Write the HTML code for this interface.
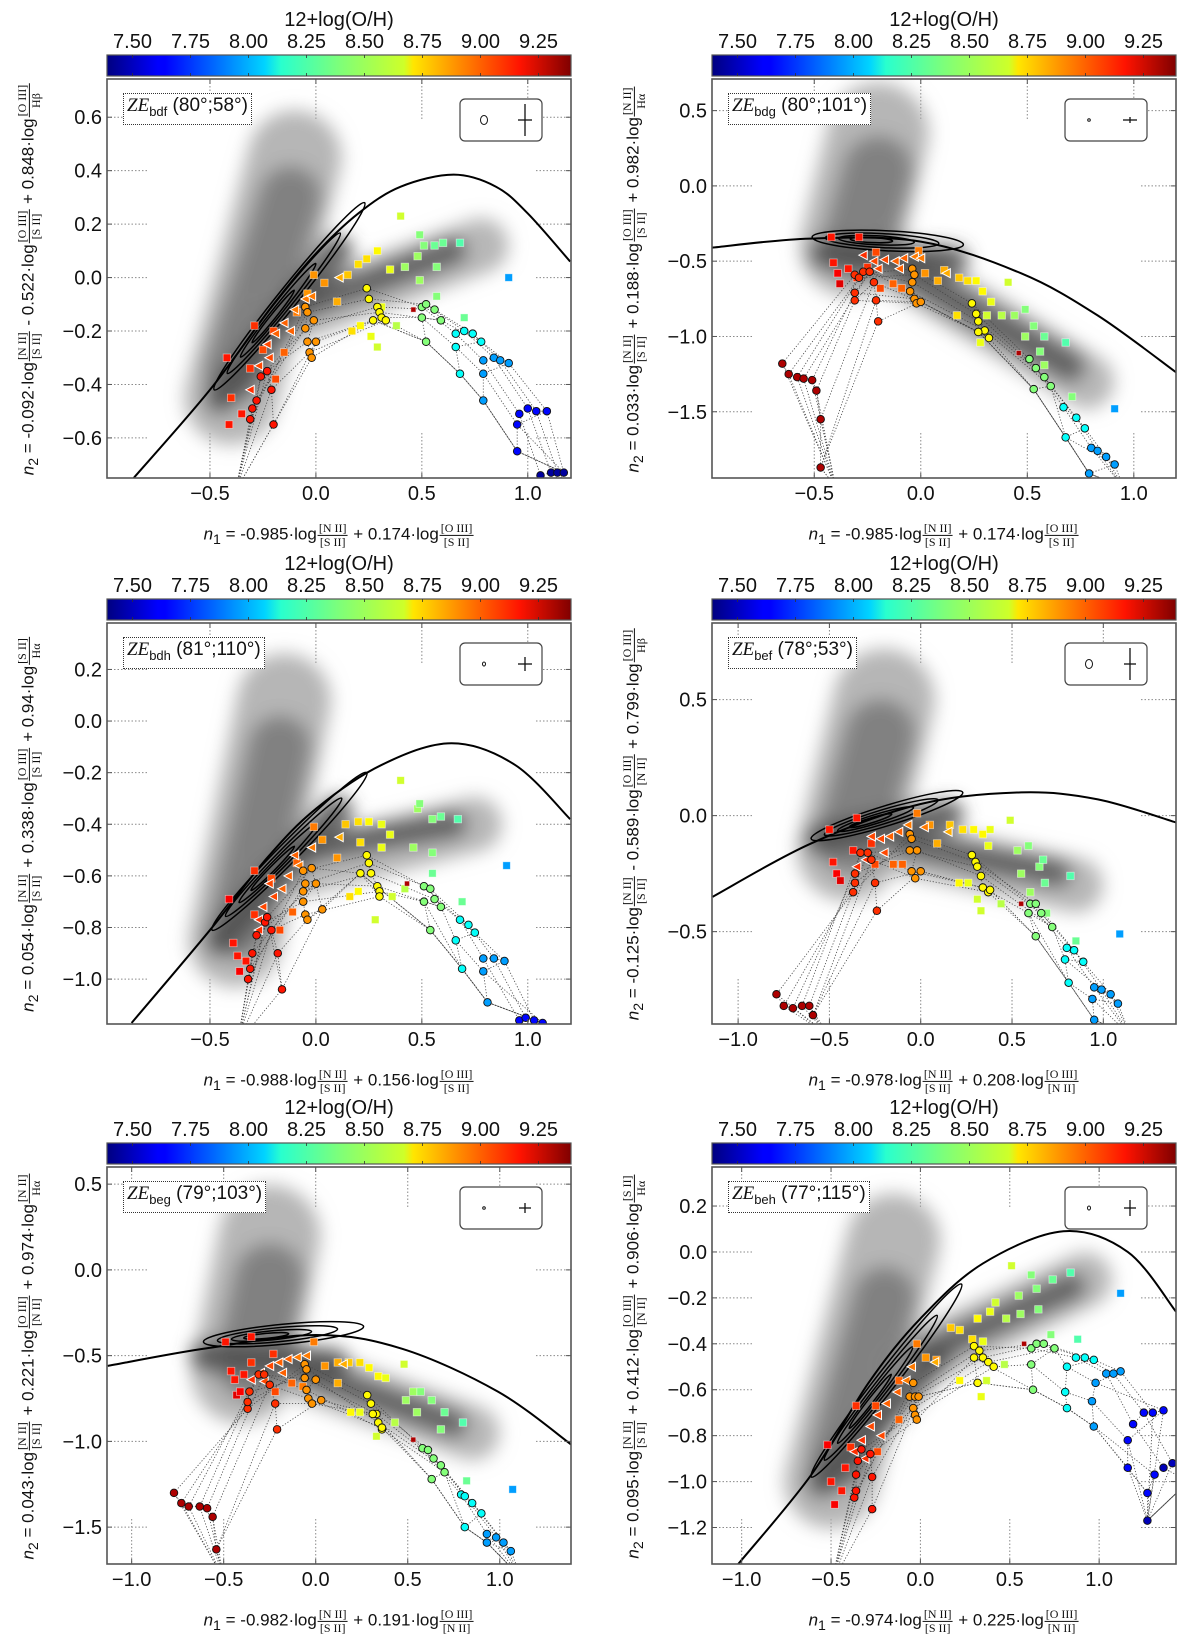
<!DOCTYPE html>
<html><head><meta charset="utf-8">
<style>
html,body{margin:0;padding:0;background:#fff;}
#wrap{position:relative;width:1200px;height:1636px;overflow:hidden;font-family:"Liberation Sans","DejaVu Sans",sans-serif;color:#111;}
svg{position:absolute;left:0;top:0;}
.lbl{position:absolute;white-space:nowrap;font-size:17px;line-height:1;}
.ylab{transform:translate(-50%,-50%) rotate(-90deg);}
.xlab{transform:translate(-50%,-50%);}
.fr{display:inline-flex;flex-direction:column;vertical-align:middle;font-family:"Liberation Serif",serif;font-size:12px;line-height:1.05;text-align:center;margin:0 1px;}
.fr .nu{border-bottom:1px solid #111;padding:0 1px;}
.fr .de{padding:0 1px;}
.ann{position:absolute;border:1px dotted #333;font-size:19px;line-height:24px;padding:0 3px;white-space:nowrap;background:#fff;}
.ann i{font-family:"Liberation Serif",serif;}
.ann sub{font-size:13px;}
</style></head>
<body>
<div id="wrap">
<svg id="svg" width="1200" height="1636" viewBox="0 0 1200 1636">
<defs>
<filter id="blur" x="-50%" y="-50%" width="200%" height="200%"><feGaussianBlur stdDeviation="9"/></filter>
<linearGradient id="jet" x1="0" x2="1" y1="0" y2="0">
<stop offset="0" stop-color="#000080"/><stop offset="0.11" stop-color="#0000ff"/><stop offset="0.125" stop-color="#0000ff"/>
<stop offset="0.34" stop-color="#00d4ff"/><stop offset="0.375" stop-color="#29ffce"/><stop offset="0.5" stop-color="#7dff7a"/>
<stop offset="0.64" stop-color="#ceff29"/><stop offset="0.66" stop-color="#ffe600"/><stop offset="0.89" stop-color="#ff1300"/><stop offset="1" stop-color="#800000"/>
</linearGradient>
</defs>
</svg>
</div>
<script>
// ---------- shared colorbar data ----------
const cbTicks = [7.50, 7.75, 8.00, 8.25, 8.50, 8.75, 9.00, 9.25];
const cbRange = [7.39, 9.39];

// ---------- panel 1 (bdf) ----------
const p1Curve = [[-0.86,-0.75],[-0.5,-0.42],[-0.2,-0.1],[0.0,0.09],[0.2,0.24],[0.4,0.34],[0.65,0.385],[0.85,0.34],[1.0,0.24],[1.2,0.06]];
const p1Contour = [-0.48,-0.42,0.23,0.28];
const p1Cloud = [[-0.4,-0.45,-0.1,0.45,120,'#a9a9a9'],[-0.3,-0.2,0.78,0.12,70,'#aaaaaa'],[-0.38,-0.35,-0.12,0.3,80,'#7a7a7a'],[-0.45,-0.45,0.1,0.1,40,'#4e4e4e'],[-0.1,-0.12,0.65,0.1,35,'#555555']];
const p1Squares = [[-0.41,-0.55,9.1],[-0.35,-0.51,9.1],[-0.40,-0.45,9.05],[-0.31,-0.34,9.05],[-0.29,-0.18,9.05],[-0.42,-0.30,9.1],[-0.25,-0.27,9.0],[-0.2,-0.2,9.0],[-0.19,-0.38,9.0],[-0.15,-0.28,8.95],[-0.09,-0.13,8.9],[-0.04,-0.06,8.85],[-0.01,0.01,8.85],[0.04,-0.02,8.85],[0.10,-0.09,8.8],[0.15,0.01,8.75],[0.20,0.05,8.7],[0.24,0.07,8.7],[0.29,0.10,8.65],[0.40,0.23,8.55],[0.35,0.03,8.6],[0.31,-0.11,8.6],[0.21,-0.18,8.65],[0.17,-0.20,8.7],[0.26,-0.22,8.6],[0.29,-0.26,8.55],[0.38,-0.18,8.5],[0.42,0.04,8.45],[0.48,0.08,8.45],[0.49,0.16,8.4],[0.51,0.12,8.4],[0.56,0.12,8.35],[0.60,0.13,8.35],[0.68,0.13,8.3],[0.57,0.04,8.4],[0.49,-0.01,8.45],[0.57,-0.07,8.4],[0.70,-0.15,8.35],[0.91,0.0,7.95],[0.46,-0.12,9.3]];
const p1Triangles = [[-0.31,-0.42,9.05],[-0.27,-0.33,9.0],[-0.23,-0.25,9.0],[-0.19,-0.21,8.95],[-0.15,-0.17,8.95],[-0.1,-0.12,8.9],[-0.05,-0.08,8.9],[-0.02,-0.07,8.9],[0.11,0.0,8.8],[-0.22,-0.3,9.0],[-0.12,-0.2,8.95]];
const p1Circles = [
 [9.1,[[-0.31,-0.53],[-0.30,-0.49],[-0.28,-0.46],[-0.26,-0.37],[-0.23,-0.35],[-0.21,-0.42],[-0.2,-0.55]]],
 [8.85,[[-0.05,-0.11],[-0.04,-0.13],[-0.05,-0.19],[-0.01,-0.16],[-0.04,-0.24],[-0.03,-0.28],[-0.02,-0.30],[0.0,-0.24]]],
 [8.65,[[0.24,-0.04],[0.25,-0.08],[0.29,-0.11],[0.30,-0.13],[0.31,-0.15],[0.33,-0.16],[0.27,-0.16]]],
 [8.4,[[0.50,-0.11],[0.52,-0.10],[0.56,-0.12],[0.59,-0.16],[0.50,-0.15],[0.52,-0.24]]],
 [8.15,[[0.66,-0.21],[0.70,-0.20],[0.74,-0.21],[0.78,-0.24],[0.66,-0.26],[0.68,-0.36]]],
 [7.95,[[0.79,-0.31],[0.84,-0.30],[0.87,-0.31],[0.91,-0.32],[0.79,-0.36],[0.79,-0.46]]],
 [7.65,[[0.96,-0.51],[1.0,-0.49],[1.04,-0.50],[1.09,-0.50],[0.95,-0.55],[0.95,-0.65]]],
 [7.45,[[1.06,-0.74],[1.11,-0.73],[1.14,-0.73],[1.17,-0.73]]]];
const p1Anchors = [[-0.38,-0.8],[1.12,-0.8]];
const p1XTicks = [-0.5,0.0,0.5,1.0];
const p1YTicks = [-0.6,-0.4,-0.2,0.0,0.2,0.4,0.6];

// ---------- panel 2 (bdg) ----------
const p2Curve = [[-0.98,-0.41],[-0.52,-0.35],[0.0,-0.37],[0.47,-0.58],[0.83,-0.86],[1.2,-1.24]];
const p2Contour = [-0.51,-0.34,0.2,-0.39];
const p2Cloud = [[-0.33,-0.4,-0.2,0.35,130,'#a9a9a9'],[-0.2,-0.45,0.78,-1.3,70,'#aaaaaa'],[-0.3,-0.4,-0.2,0.1,90,'#7a7a7a'],[-0.45,-0.45,0.15,-0.5,40,'#4e4e4e'],[-0.1,-0.55,0.7,-1.2,40,'#555555']];
const p2Squares = [[-0.42,-0.34,9.1],[-0.29,-0.34,9.1],[-0.41,-0.51,9.1],[-0.39,-0.58,9.15],[-0.38,-0.65,9.2],[-0.34,-0.55,9.1],[-0.30,-0.61,9.05],[-0.25,-0.54,9.05],[-0.21,-0.44,9.0],[-0.19,-0.68,9.0],[-0.13,-0.65,8.95],[-0.09,-0.68,8.95],[-0.01,-0.43,8.9],[0.02,-0.58,8.85],[0.08,-0.63,8.8],[0.11,-0.56,8.8],[0.18,-0.61,8.75],[0.22,-0.63,8.7],[0.26,-0.63,8.65],[0.29,-0.70,8.65],[0.33,-0.77,8.6],[0.41,-0.64,8.55],[0.31,-0.86,8.55],[0.38,-0.86,8.5],[0.44,-0.86,8.45],[0.49,-0.82,8.4],[0.53,-0.93,8.4],[0.58,-1.0,8.35],[0.49,-1.0,8.45],[0.56,-1.1,8.4],[0.68,-1.04,8.3],[0.28,-1.04,8.6],[0.58,-1.19,8.45],[0.71,-1.40,8.4],[0.91,-1.48,7.95],[0.17,-0.86,8.7],[0.46,-1.11,9.3]];
const p2Triangles = [[-0.27,-0.46,9.05],[-0.22,-0.5,9.0],[-0.17,-0.49,9.0],[-0.12,-0.5,8.95],[-0.08,-0.48,8.95],[-0.03,-0.47,8.9],[0.0,-0.48,8.9],[0.12,-0.58,8.8],[-0.2,-0.55,9.0],[-0.1,-0.55,8.95]];
const p2Circles = [
 [9.3,[[-0.65,-1.18],[-0.62,-1.25],[-0.58,-1.27],[-0.55,-1.28],[-0.51,-1.29],[-0.49,-1.36],[-0.47,-1.55],[-0.47,-1.87]]],
 [9.05,[[-0.31,-0.59],[-0.29,-0.61],[-0.27,-0.57],[-0.24,-0.57],[-0.31,-0.71],[-0.31,-0.76],[-0.22,-0.64],[-0.21,-0.76],[-0.2,-0.90]]],
 [8.85,[[-0.04,-0.55],[-0.03,-0.59],[-0.04,-0.64],[-0.05,-0.70],[-0.03,-0.75],[-0.02,-0.78],[0.0,-0.77]]],
 [8.65,[[0.24,-0.78],[0.26,-0.85],[0.27,-0.90],[0.30,-0.96],[0.32,-1.01],[0.27,-0.97]]],
 [8.4,[[0.51,-1.15],[0.54,-1.21],[0.58,-1.27],[0.61,-1.33],[0.53,-1.35]]],
 [8.15,[[0.67,-1.47],[0.73,-1.54],[0.77,-1.61],[0.68,-1.67]]],
 [7.95,[[0.8,-1.74],[0.83,-1.76],[0.87,-1.80],[0.91,-1.85],[0.79,-1.91]]]];
const p2Anchors = [[-0.4,-2.0],[0.95,-2.0]];
const p2XTicks = [-0.5,0.0,0.5,1.0];
const p2YTicks = [-1.5,-1.0,-0.5,0.0,0.5];

// ---------- panel 3 (bdh) ----------
const p3Curve = [[-0.87,-1.17],[-0.5,-0.81],[-0.23,-0.53],[0.0,-0.34],[0.31,-0.17],[0.64,-0.086],[0.94,-0.17],[1.2,-0.38]];
const p3Contour = [-0.49,-0.81,0.24,-0.2];
const p3Cloud = [[-0.38,-0.85,-0.15,0.08,120,'#a9a9a9'],[-0.2,-0.6,0.75,-0.4,70,'#aaaaaa'],[-0.36,-0.8,-0.17,-0.1,80,'#7a7a7a'],[-0.45,-0.85,0.1,-0.35,40,'#4e4e4e'],[-0.05,-0.5,0.65,-0.4,35,'#555555']];
const p3Squares = [[-0.39,-0.86,9.1],[-0.37,-0.91,9.1],[-0.36,-0.97,9.15],[-0.33,-0.93,9.1],[-0.41,-0.69,9.15],[-0.29,-0.58,9.05],[-0.29,-0.75,9.05],[-0.21,-0.61,9.0],[-0.17,-0.81,9.0],[-0.11,-0.74,8.95],[-0.09,-0.55,8.95],[-0.01,-0.41,8.9],[0.03,-0.46,8.85],[0.1,-0.53,8.85],[0.14,-0.40,8.75],[0.2,-0.39,8.7],[0.21,-0.47,8.7],[0.25,-0.39,8.65],[0.31,-0.40,8.6],[0.4,-0.23,8.55],[0.35,-0.44,8.6],[0.31,-0.49,8.6],[0.2,-0.66,8.65],[0.16,-0.68,8.7],[0.28,-0.77,8.55],[0.36,-0.68,8.55],[0.42,-0.65,8.5],[0.48,-0.34,8.45],[0.49,-0.32,8.4],[0.55,-0.38,8.4],[0.59,-0.37,8.35],[0.67,-0.38,8.3],[0.46,-0.49,8.45],[0.55,-0.51,8.4],[0.55,-0.59,8.35],[0.69,-0.70,8.35],[0.9,-0.56,7.95],[0.43,-0.63,9.3]];
const p3Triangles = [[-0.27,-0.77,9.05],[-0.25,-0.72,9.0],[-0.2,-0.68,9.0],[-0.16,-0.65,8.95],[-0.13,-0.6,8.95],[-0.08,-0.56,8.9],[-0.02,-0.49,8.9],[0.11,-0.45,8.8],[-0.22,-0.63,9.0],[-0.1,-0.52,8.95],[-0.27,-0.81,9.05]];
const p3Circles = [
 [9.1,[[-0.32,-1.0],[-0.31,-0.96],[-0.30,-0.9],[-0.28,-0.83],[-0.24,-0.78],[-0.21,-0.81],[-0.18,-0.9],[-0.16,-1.04],[-0.23,-0.76]]],
 [8.85,[[-0.06,-0.58],[-0.05,-0.63],[-0.06,-0.66],[0.0,-0.63],[-0.06,-0.70],[-0.05,-0.75],[-0.04,-0.77],[0.03,-0.73],[-0.02,-0.57]]],
 [8.65,[[0.24,-0.52],[0.25,-0.55],[0.26,-0.59],[0.29,-0.64],[0.3,-0.66],[0.3,-0.68],[0.21,-0.59]]],
 [8.4,[[0.51,-0.64],[0.54,-0.65],[0.56,-0.69],[0.59,-0.72],[0.51,-0.70],[0.54,-0.81]]],
 [8.15,[[0.68,-0.77],[0.72,-0.79],[0.75,-0.82],[0.66,-0.85],[0.69,-0.96]]],
 [7.95,[[0.79,-0.92],[0.84,-0.92],[0.89,-0.93],[0.79,-0.97],[0.81,-1.09]]],
 [7.65,[[0.96,-1.16],[0.99,-1.15],[1.03,-1.16],[1.07,-1.17]]]];
const p3Anchors = [[-0.37,-1.25],[1.08,-1.25]];
const p3XTicks = [-0.5,0.0,0.5,1.0];
const p3YTicks = [-1.0,-0.8,-0.6,-0.4,-0.2,0.0,0.2];

// ---------- panel 4 (bef) ----------
const p4Curve = [[-1.14,-0.35],[-0.6,-0.12],[0.0,0.05],[0.55,0.10],[0.97,0.07],[1.4,-0.03]];
const p4Contour = [-0.6,-0.1,0.23,0.1];
const p4Cloud = [[-0.4,-0.15,-0.2,0.5,130,'#a9a9a9'],[-0.2,-0.12,0.85,-0.3,70,'#aaaaaa'],[-0.38,-0.1,-0.22,0.35,90,'#7a7a7a'],[-0.55,-0.1,0.15,0.0,40,'#4e4e4e'],[-0.1,-0.12,0.75,-0.25,35,'#555555']];
const p4Squares = [[-0.5,-0.06,9.1],[-0.35,-0.01,9.1],[-0.48,-0.2,9.1],[-0.46,-0.25,9.15],[-0.44,-0.28,9.2],[-0.37,-0.15,9.1],[-0.27,-0.12,9.05],[-0.25,-0.21,9.0],[-0.15,-0.21,8.95],[-0.1,-0.21,8.95],[-0.02,0.01,8.9],[0.05,-0.04,8.85],[0.09,-0.12,8.8],[0.16,-0.04,8.75],[0.23,-0.06,8.7],[0.29,-0.06,8.65],[0.34,-0.08,8.65],[0.37,-0.13,8.6],[0.49,-0.02,8.55],[0.38,-0.06,8.6],[0.21,-0.29,8.65],[0.26,-0.29,8.6],[0.31,-0.36,8.55],[0.33,-0.41,8.55],[0.44,-0.38,8.5],[0.53,-0.15,8.45],[0.59,-0.13,8.4],[0.55,-0.25,8.45],[0.65,-0.22,8.4],[0.68,-0.29,8.35],[0.67,-0.19,8.35],[0.6,-0.33,8.45],[0.69,-0.42,8.4],[0.82,-0.26,8.3],[0.85,-0.54,8.35],[1.09,-0.51,7.95],[0.55,-0.38,9.3]];
const p4Triangles = [[-0.27,-0.09,9.0],[-0.22,-0.1,9.0],[-0.17,-0.09,8.95],[-0.12,-0.07,8.95],[-0.07,-0.04,8.9],[0.02,-0.05,8.9],[0.15,-0.07,8.8],[-0.3,-0.19,9.05],[-0.2,-0.16,9.0],[-0.35,-0.22,9.05]];
const p4Circles = [
 [9.3,[[-0.79,-0.77],[-0.75,-0.82],[-0.7,-0.83],[-0.65,-0.82],[-0.61,-0.82],[-0.59,-0.86]]],
 [9.05,[[-0.37,-0.33],[-0.36,-0.29],[-0.36,-0.25],[-0.33,-0.16],[-0.29,-0.16],[-0.27,-0.19],[-0.25,-0.29],[-0.24,-0.41]]],
 [8.85,[[-0.06,-0.08],[-0.05,-0.10],[-0.06,-0.15],[-0.02,-0.15],[-0.05,-0.24],[-0.03,-0.27],[0.0,-0.24]]],
 [8.65,[[0.28,-0.17],[0.30,-0.2],[0.31,-0.22],[0.33,-0.26],[0.34,-0.31],[0.37,-0.33],[0.38,-0.32]]],
 [8.4,[[0.6,-0.38],[0.63,-0.38],[0.66,-0.42],[0.72,-0.48],[0.59,-0.42],[0.63,-0.52]]],
 [8.15,[[0.8,-0.57],[0.84,-0.58],[0.89,-0.63],[0.79,-0.62],[0.81,-0.72]]],
 [7.95,[[0.95,-0.74],[0.99,-0.75],[1.04,-0.77],[1.08,-0.81],[0.94,-0.79],[0.95,-0.88]]]];
const p4Anchors = [[-0.5,-0.95],[1.15,-0.95]];
const p4XTicks = [-1.0,-0.5,0.0,0.5,1.0];
const p4YTicks = [-0.5,0.0,0.5];

// ---------- panel 5 (beg) ----------
const p5Curve = [[-1.13,-0.56],[-0.61,-0.46],[0.0,-0.38],[0.47,-0.46],[0.99,-0.71],[1.39,-1.02]];
const p5Contour = [-0.61,-0.42,0.26,-0.33];
const p5Cloud = [[-0.4,-0.6,-0.25,0.2,130,'#a9a9a9'],[-0.2,-0.55,0.85,-0.95,70,'#aaaaaa'],[-0.35,-0.55,-0.25,-0.05,90,'#7a7a7a'],[-0.6,-0.5,0.1,-0.55,40,'#4e4e4e'],[-0.05,-0.6,0.75,-0.9,35,'#555555']];
const p5Squares = [[-0.49,-0.42,9.1],[-0.35,-0.39,9.1],[-0.46,-0.59,9.1],[-0.44,-0.64,9.1],[-0.43,-0.73,9.2],[-0.41,-0.71,9.15],[-0.39,-0.61,9.1],[-0.35,-0.54,9.05],[-0.23,-0.49,9.05],[-0.22,-0.71,9.0],[-0.13,-0.66,8.95],[-0.07,-0.68,8.9],[-0.01,-0.42,8.9],[0.05,-0.56,8.85],[0.12,-0.54,8.8],[0.12,-0.66,8.8],[0.18,-0.54,8.75],[0.24,-0.54,8.7],[0.29,-0.57,8.65],[0.34,-0.62,8.65],[0.38,-0.63,8.6],[0.48,-0.55,8.55],[0.19,-0.83,8.65],[0.24,-0.83,8.6],[0.33,-0.97,8.55],[0.43,-0.89,8.5],[0.49,-0.76,8.45],[0.53,-0.71,8.45],[0.57,-0.71,8.4],[0.63,-0.76,8.4],[0.7,-0.83,8.35],[0.55,-0.83,8.45],[0.68,-0.93,8.4],[0.8,-0.89,8.3],[0.82,-1.23,8.35],[1.07,-1.28,7.95],[0.53,-0.99,9.3]];
const p5Triangles = [[-0.35,-0.64,9.05],[-0.3,-0.6,9.0],[-0.25,-0.56,9.0],[-0.2,-0.54,8.95],[-0.15,-0.52,8.95],[-0.1,-0.51,8.9],[-0.05,-0.5,8.9],[0.15,-0.55,8.8],[-0.28,-0.65,9.0],[-0.18,-0.6,8.95]];
const p5Circles = [
 [9.3,[[-0.77,-1.3],[-0.73,-1.36],[-0.69,-1.38],[-0.63,-1.38],[-0.59,-1.39],[-0.56,-1.44],[-0.54,-1.63]]],
 [9.05,[[-0.37,-0.81],[-0.37,-0.77],[-0.36,-0.71],[-0.31,-0.61],[-0.28,-0.61],[-0.25,-0.67],[-0.22,-0.78],[-0.21,-0.93]]],
 [8.85,[[-0.06,-0.55],[-0.05,-0.58],[-0.06,-0.63],[0.0,-0.64],[-0.05,-0.70],[-0.04,-0.75],[-0.02,-0.78],[0.03,-0.76]]],
 [8.65,[[0.28,-0.73],[0.30,-0.78],[0.33,-0.84],[0.34,-0.89],[0.36,-0.93],[0.36,-0.92],[0.31,-0.84]]],
 [8.4,[[0.58,-1.04],[0.61,-1.05],[0.64,-1.10],[0.68,-1.14],[0.7,-1.18],[0.63,-1.22]]],
 [8.15,[[0.79,-1.31],[0.81,-1.32],[0.85,-1.36],[0.9,-1.42],[0.81,-1.5]]],
 [7.95,[[0.93,-1.54],[0.98,-1.56],[1.02,-1.59],[1.06,-1.64],[0.93,-1.59]]]];
const p5Anchors = [[-0.5,-1.8],[1.12,-1.8]];
const p5XTicks = [-1.0,-0.5,0.0,0.5,1.0];
const p5YTicks = [-1.5,-1.0,-0.5,0.0,0.5];

// ---------- panel 6 (beh) ----------
const p6Curve = [[-1.02,-1.36],[-0.61,-0.97],[-0.29,-0.57],[0.0,-0.29],[0.35,-0.05],[0.8,0.09],[1.16,0.0],[1.43,-0.26]];
const p6Contour = [-0.61,-0.98,0.23,-0.14];
const p6Cloud = [[-0.5,-1.0,-0.15,0.05,120,'#a9a9a9'],[-0.1,-0.5,0.92,-0.12,70,'#aaaaaa'],[-0.45,-0.9,-0.2,-0.2,80,'#7a7a7a'],[-0.55,-1.0,0.1,-0.45,40,'#4e4e4e'],[0.0,-0.45,0.85,-0.15,35,'#555555']];
const p6Squares = [[-0.48,-1.1,9.15],[-0.44,-1.04,9.1],[-0.5,-1.0,9.1],[-0.42,-0.94,9.1],[-0.52,-0.84,9.15],[-0.36,-0.67,9.05],[-0.39,-0.85,9.05],[-0.25,-0.67,9.0],[-0.24,-0.87,9.0],[-0.12,-0.73,8.95],[-0.12,-0.56,8.95],[-0.02,-0.40,8.9],[0.03,-0.46,8.85],[0.09,-0.47,8.85],[0.17,-0.33,8.75],[0.22,-0.34,8.7],[0.29,-0.38,8.7],[0.32,-0.29,8.65],[0.39,-0.26,8.6],[0.42,-0.22,8.55],[0.51,-0.06,8.55],[0.48,-0.29,8.5],[0.35,-0.39,8.6],[0.22,-0.56,8.65],[0.37,-0.56,8.55],[0.34,-0.63,8.6],[0.47,-0.49,8.5],[0.55,-0.19,8.45],[0.62,-0.1,8.4],[0.65,-0.16,8.4],[0.74,-0.12,8.35],[0.84,-0.09,8.3],[0.56,-0.27,8.45],[0.66,-0.25,8.4],[0.73,-0.36,8.4],[0.88,-0.38,8.3],[1.12,-0.18,7.95],[0.58,-0.40,9.3]];
const p6Triangles = [[-0.37,-0.87,9.05],[-0.33,-0.82,9.05],[-0.28,-0.76,9.0],[-0.24,-0.71,9.0],[-0.19,-0.66,8.95],[-0.13,-0.61,8.95],[-0.08,-0.56,8.9],[0.08,-0.48,8.8],[-0.31,-0.9,9.05],[-0.22,-0.8,9.0],[-0.05,-0.5,8.9]];
const p6Circles = [
 [9.1,[[-0.37,-1.07],[-0.36,-1.04],[-0.36,-0.97],[-0.35,-0.91],[-0.33,-0.86],[-0.28,-0.88],[-0.27,-0.98],[-0.27,-1.12]]],
 [8.85,[[-0.04,-0.57],[-0.06,-0.63],[-0.03,-0.63],[-0.04,-0.68],[-0.03,-0.71],[-0.02,-0.73],[-0.01,-0.63]]],
 [8.65,[[0.3,-0.41],[0.33,-0.43],[0.35,-0.46],[0.38,-0.48],[0.41,-0.50],[0.3,-0.46],[0.32,-0.57]]],
 [8.4,[[0.62,-0.42],[0.65,-0.4],[0.69,-0.4],[0.75,-0.42],[0.62,-0.49],[0.63,-0.6]]],
 [8.15,[[0.87,-0.46],[0.92,-0.46],[0.97,-0.47],[0.82,-0.5],[0.81,-0.61],[0.82,-0.68]]],
 [7.95,[[1.04,-0.53],[1.08,-0.53],[1.12,-0.52],[0.98,-0.57],[0.96,-0.65],[0.97,-0.76]]],
 [7.65,[[1.19,-0.75],[1.25,-0.7],[1.3,-0.7],[1.36,-0.69],[1.16,-0.82],[1.16,-0.94],[1.27,-1.05],[1.31,-0.97]]],
 [7.5,[[1.36,-0.94],[1.41,-0.92],[1.27,-1.17]]]];
const p6Anchors = [[-0.5,-1.45],[1.5,-1.0]];
const p6XTicks = [-1.0,-0.5,0.0,0.5,1.0];
const p6YTicks = [-1.2,-1.0,-0.8,-0.6,-0.4,-0.2,0.0,0.2];

// ---------- layout configs ----------
const F = (n,d)=>`<span class="fr"><span class="nu">${n}</span><span class="de">${d}</span></span>`;
const NII='[N II]', SII='[S II]', OIII='[O III]';
const panels = [
 {id:'bdf',ang:'(80°;58°)',fx:107,fy:79,fw:464,fh:399,xlim:[-0.986,1.204],ylim:[-0.75,0.743],
  curve:p1Curve,contour:p1Contour,cloud:p1Cloud,sq:p1Squares,tri:p1Triangles,circ:p1Circles,anc:p1Anchors,xt:p1XTicks,yt:p1YTicks,leg:[3.5,4.5,7,16],
  ylab:`<i>n</i><sub>2</sub> = -0.092·log${F(NII,SII)} - 0.522·log${F(OIII,SII)} + 0.848·log${F(OIII,'Hβ')}`,
  xlab:`<i>n</i><sub>1</sub> = -0.985·log${F(NII,SII)} + 0.174·log${F(OIII,SII)}`},
 {id:'bdg',ang:'(80°;101°)',fx:712,fy:79,fw:464,fh:399,xlim:[-0.98,1.198],ylim:[-1.94,0.71],
  curve:p2Curve,contour:p2Contour,cloud:p2Cloud,sq:p2Squares,tri:p2Triangles,circ:p2Circles,anc:p2Anchors,xt:p2XTicks,yt:p2YTicks,leg:[1.3,1.3,7,3],
  ylab:`<i>n</i><sub>2</sub> = 0.033·log${F(NII,SII)} + 0.188·log${F(OIII,SII)} + 0.982·log${F(NII,'Hα')}`,
  xlab:`<i>n</i><sub>1</sub> = -0.985·log${F(NII,SII)} + 0.174·log${F(OIII,SII)}`},
 {id:'bdh',ang:'(81°;110°)',fx:107,fy:623,fw:464,fh:401,xlim:[-0.986,1.204],ylim:[-1.174,0.38],
  curve:p3Curve,contour:p3Contour,cloud:p3Cloud,sq:p3Squares,tri:p3Triangles,circ:p3Circles,anc:p3Anchors,xt:p3XTicks,yt:p3YTicks,leg:[1.5,2,7,7],
  ylab:`<i>n</i><sub>2</sub> = 0.054·log${F(NII,SII)} + 0.338·log${F(OIII,SII)} + 0.94·log${F(SII,'Hα')}`,
  xlab:`<i>n</i><sub>1</sub> = -0.988·log${F(NII,SII)} + 0.156·log${F(OIII,SII)}`},
 {id:'bef',ang:'(78°;53°)',fx:712,fy:623,fw:464,fh:401,xlim:[-1.143,1.398],ylim:[-0.898,0.83],
  curve:p4Curve,contour:p4Contour,cloud:p4Cloud,sq:p4Squares,tri:p4Triangles,circ:p4Circles,anc:p4Anchors,xt:p4XTicks,yt:p4YTicks,leg:[3.5,4.5,6,16],
  ylab:`<i>n</i><sub>2</sub> = -0.125·log${F(NII,SII)} - 0.589·log${F(OIII,NII)} + 0.799·log${F(OIII,'Hβ')}`,
  xlab:`<i>n</i><sub>1</sub> = -0.978·log${F(NII,SII)} + 0.208·log${F(OIII,NII)}`},
 {id:'beg',ang:'(79°;103°)',fx:107,fy:1167,fw:464,fh:397,xlim:[-1.134,1.387],ylim:[-1.715,0.6],
  curve:p5Curve,contour:p5Contour,cloud:p5Cloud,sq:p5Squares,tri:p5Triangles,circ:p5Circles,anc:p5Anchors,xt:p5XTicks,yt:p5YTicks,leg:[1.3,1.3,6,5],
  ylab:`<i>n</i><sub>2</sub> = 0.043·log${F(NII,SII)} + 0.221·log${F(OIII,NII)} + 0.974·log${F(NII,'Hα')}`,
  xlab:`<i>n</i><sub>1</sub> = -0.982·log${F(NII,SII)} + 0.191·log${F(OIII,NII)}`},
 {id:'beh',ang:'(77°;115°)',fx:712,fy:1167,fw:464,fh:397,xlim:[-1.166,1.43],ylim:[-1.359,0.37],
  curve:p6Curve,contour:p6Contour,cloud:p6Cloud,sq:p6Squares,tri:p6Triangles,circ:p6Circles,anc:p6Anchors,xt:p6XTicks,yt:p6YTicks,leg:[1.5,2,6,8],
  ylab:`<i>n</i><sub>2</sub> = 0.095·log${F(NII,SII)} + 0.412·log${F(OIII,NII)} + 0.906·log${F(SII,'Hα')}`,
  xlab:`<i>n</i><sub>1</sub> = -0.974·log${F(NII,SII)} + 0.225·log${F(OIII,NII)}`}
];

const NS='http://www.w3.org/2000/svg';
const svg=document.getElementById('svg');
const wrap=document.getElementById('wrap');
function mk(tag,attrs,parent){const e=document.createElementNS(NS,tag);for(const k in attrs)e.setAttribute(k,attrs[k]);parent.appendChild(e);return e;}
function jet(z){let t=(z-cbRange[0])/(cbRange[1]-cbRange[0]);t=Math.max(0,Math.min(1,t));
 const c=v=>Math.round(255*Math.max(0,Math.min(1,v)));
 return `rgb(${c(1.5-Math.abs(4*t-3))},${c(1.5-Math.abs(4*t-2))},${c(1.5-Math.abs(4*t-1))})`;}
const fmt=v=>(v<0?'\u2212':'')+Math.abs(v).toFixed(1);
function smooth(pts){let d=`M${pts[0][0]},${pts[0][1]}`;
 for(let i=0;i<pts.length-1;i++){const p0=pts[Math.max(0,i-1)],p1=pts[i],p2=pts[i+1],p3=pts[Math.min(pts.length-1,i+2)];
  d+=` C${p1[0]+(p2[0]-p0[0])/6},${p1[1]+(p2[1]-p0[1])/6} ${p2[0]-(p3[0]-p1[0])/6},${p2[1]-(p3[1]-p1[1])/6} ${p2[0]},${p2[1]}`;}
 return d;}

panels.forEach((P,pi)=>{
 const X=v=>P.fx+(v-P.xlim[0])/(P.xlim[1]-P.xlim[0])*P.fw;
 const Y=v=>P.fy+P.fh-(v-P.ylim[0])/(P.ylim[1]-P.ylim[0])*P.fh;
 const g=mk('g',{},svg);
 
 
 const cid='clip'+pi;
 const cp=mk('clipPath',{id:cid},g);mk('rect',{x:P.fx,y:P.fy,width:P.fw,height:P.fh},cp);
 const plot=mk('g',{'clip-path':`url(#${cid})`},g);
 
 
 const grid=mk('g',{stroke:'#8a8a8a','stroke-width':1,'stroke-dasharray':'1.5,2'},plot);
 
 
 P.xt.forEach(v=>{mk('line',{x1:X(v),x2:X(v),y1:P.fy,y2:P.fy+40},grid);mk('line',{x1:X(v),x2:X(v),y1:P.fy+P.fh-45,y2:P.fy+P.fh},grid);});
 P.yt.forEach(v=>{mk('line',{x1:P.fx,x2:P.fx+40,y1:Y(v),y2:Y(v)},grid);mk('line',{x1:P.fx+P.fw-35,x2:P.fx+P.fw,y1:Y(v),y2:Y(v)},grid);});
 const cl=mk('g',{filter:'url(#blur)'},plot);
 
 
 P.cloud.forEach(b=>{mk('line',{x1:X(b[0]),y1:Y(b[1]),x2:X(b[2]),y2:Y(b[3]),stroke:b[5],'stroke-width':b[4]*0.78,'stroke-linecap':'round','stroke-opacity':0.85},cl);});
 const c=P.contour,cx=(X(c[0])+X(c[2]))/2,cy=(Y(c[1])+Y(c[3]))/2;
 const L=Math.hypot(X(c[2])-X(c[0]),Y(c[3])-Y(c[1]))/2,ang=Math.atan2(Y(c[3])-Y(c[1]),X(c[2])-X(c[0]))*180/Math.PI;
 const cg=mk('g',{fill:'none',stroke:'#000','stroke-width':1.5,transform:`rotate(${ang} ${cx} ${cy})`},plot);
 
 
 [[1,10],[0.75,7],[0.5,4.5],[0.28,2.5]].forEach(r=>mk('ellipse',{cx:cx-L*(1-r[0])*0.3,cy:cy,rx:L*r[0],ry:r[1]},cg));
 const cv=mk('path',{d:smooth(P.curve.map(p=>[X(p[0]),Y(p[1])])),fill:'none',stroke:'#000','stroke-width':2},plot);
 
 
 const tg=mk('g',{fill:'none',stroke:'#444','stroke-width':0.8,'stroke-dasharray':'1.2,1.8'},plot);
 
 
 P.circ.forEach(grp=>{mk('polyline',{points:grp[1].map(p=>X(p[0])+','+Y(p[1])).join(' ')},tg);});
 const maxK=Math.max(...P.circ.map(g=>g[1].length));
 for(let k=0;k<maxK;k++){const pts=[P.anc[0]].concat(P.circ.map(g=>g[1][Math.min(k,g[1].length-1)])).concat([P.anc[1]]);
  mk('polyline',{points:pts.map(p=>X(p[0])+','+Y(p[1])).join(' ')},tg);}
 const sg=mk('g',{},plot);
 
 
 P.sq.forEach(s=>{const sz=s[2]>9.25?5:7.5;const r=mk('rect',{x:X(s[0])-sz/2,y:Y(s[1])-sz/2,width:sz,height:sz,fill:jet(s[2]),stroke:'rgba(255,255,255,0.5)','stroke-width':0.8},sg);
  
  });
 const trg=mk('g',{},plot);
 
 
 P.tri.forEach(t=>{const x=X(t[0]),y=Y(t[1]);const p=mk('polygon',{points:`${x-4.5},${y} ${x+4},${y-4.5} ${x+4},${y+4.5}`,fill:jet(t[2]),stroke:'#fff','stroke-width':1},trg);
  
  });
 const ccg=mk('g',{},plot);
 
 
 P.circ.forEach(grp=>grp[1].forEach(p=>{const e=mk('circle',{cx:X(p[0]),cy:Y(p[1]),r:3.8,fill:jet(grp[0]),stroke:'#111','stroke-width':0.9},ccg);
  
  }));
 const fr=mk('rect',{x:P.fx,y:P.fy,width:P.fw,height:P.fh,fill:'none',stroke:'#555','stroke-width':1.6},g);
 
 
 const tk=mk('g',{stroke:'#555','stroke-width':1},g);
 
 
 P.xt.forEach(v=>{mk('line',{x1:X(v),x2:X(v),y1:P.fy,y2:P.fy+5},tk);mk('line',{x1:X(v),x2:X(v),y1:P.fy+P.fh,y2:P.fy+P.fh-5},tk);});
 P.yt.forEach(v=>{mk('line',{x1:P.fx,x2:P.fx+5,y1:Y(v),y2:Y(v)},tk);mk('line',{x1:P.fx+P.fw,x2:P.fx+P.fw-5,y1:Y(v),y2:Y(v)},tk);});
 const tl=mk('g',{'font-family':'Liberation Sans, sans-serif','font-size':20,fill:'#111'},g);
 
 
 P.xt.forEach(v=>{const t=mk('text',{x:X(v),y:P.fy+P.fh+22,'text-anchor':'middle'},tl);t.textContent=fmt(v);
  
  });
 P.yt.forEach(v=>{const t=mk('text',{x:P.fx-5,y:Y(v)+7,'text-anchor':'end'},tl);t.textContent=fmt(v);
  
  });
 const cb=mk('g',{},g);
 
 
 const cby=P.fy-24;
 mk('rect',{x:P.fx,y:cby,width:P.fw,height:21,fill:'url(#jet)',stroke:'#555','stroke-width':1.2},cb);
 const CX=v=>P.fx+(v-cbRange[0])/(cbRange[1]-cbRange[0])*P.fw;
 cbTicks.forEach(v=>{mk('line',{x1:CX(v),x2:CX(v),y1:cby,y2:cby+3,stroke:'#333','stroke-width':0.8},cb);mk('line',{x1:CX(v),x2:CX(v),y1:cby+21,y2:cby+18,stroke:'#333','stroke-width':0.8},cb);
  const t=mk('text',{x:CX(v),y:cby-7,'text-anchor':'middle','font-family':'Liberation Sans, sans-serif','font-size':20,fill:'#111'},cb);t.textContent=v.toFixed(2);
  
  });
 const ct=mk('text',{x:P.fx+P.fw/2,y:P.fy-53,'text-anchor':'middle','font-family':'Liberation Sans, sans-serif','font-size':20,fill:'#111'},cb);
 ct.textContent='12+log(O/H)';
 
 
 const lg=mk('g',{},g);
 
 
 const lx=P.fx+P.fw-29-82,ly=P.fy+20;
 mk('rect',{x:lx,y:ly,width:82,height:42,rx:5,fill:'#fff',stroke:'#444','stroke-width':1.2},lg);
 mk('ellipse',{cx:lx+24,cy:ly+21,rx:P.leg[0],ry:P.leg[1],fill:'none',stroke:'#111','stroke-width':1},lg);
 mk('line',{x1:lx+65-P.leg[2],x2:lx+65+P.leg[2],y1:ly+21,y2:ly+21,stroke:'#111','stroke-width':1.3},lg);
 mk('line',{x1:lx+65,x2:lx+65,y1:ly+21-P.leg[3],y2:ly+21+P.leg[3],stroke:'#111','stroke-width':1.3},lg);
 const an=document.createElement('div');an.className='ann';
 an.style.left=(P.fx+16)+'px';an.style.top=(P.fy+14)+'px';
 an.innerHTML=`<i>ZE</i><sub>${P.id}</sub> ${P.ang}`;
 
 
 wrap.appendChild(an);
 const yl=document.createElement('div');yl.className='lbl ylab';
 yl.style.left=(P.fx-78)+'px';yl.style.top=(P.fy+P.fh/2)+'px';yl.innerHTML=P.ylab;
 
 
 wrap.appendChild(yl);
 const xl=document.createElement('div');xl.className='lbl xlab';
 xl.style.left=(P.fx+P.fw/2)+'px';xl.style.top=(P.fy+P.fh+57)+'px';xl.innerHTML=P.xlab;
 
 
 wrap.appendChild(xl);
});
</script>
</body></html>
